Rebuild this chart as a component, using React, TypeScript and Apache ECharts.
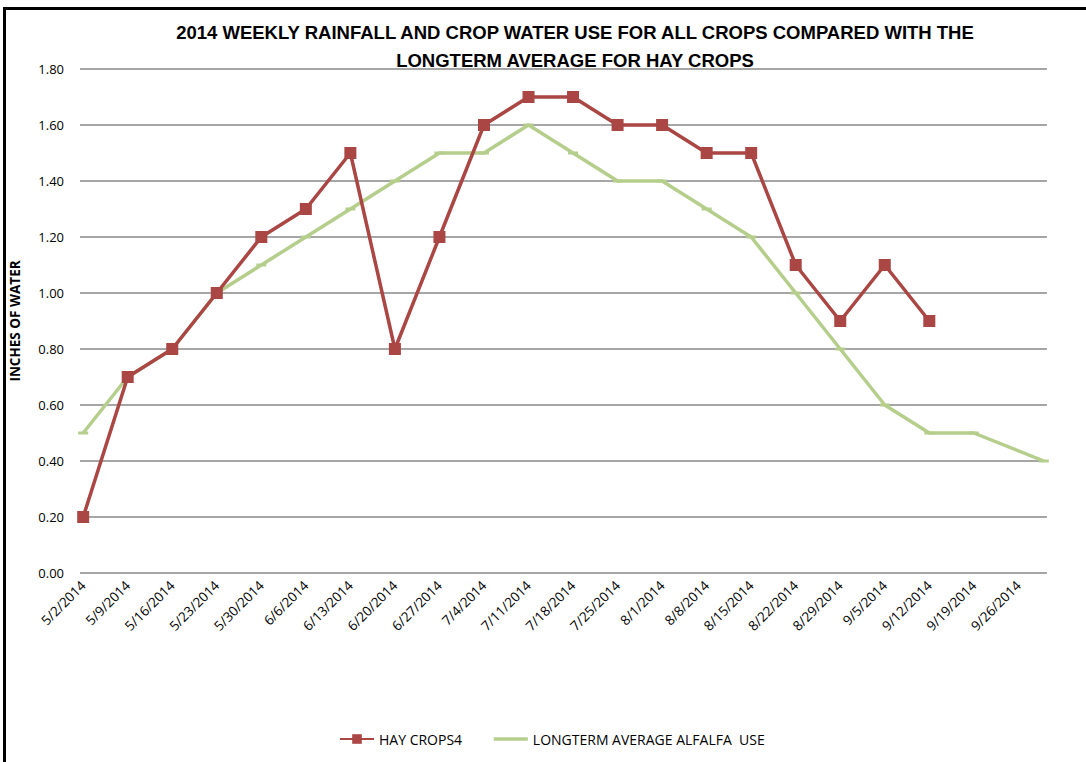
import React, { useEffect, useRef } from "react";
import * as echarts from "echarts";

const weekLabels = [
  "5/2/2014", "5/9/2014", "5/16/2014", "5/23/2014", "5/30/2014", "6/6/2014",
  "6/13/2014", "6/20/2014", "6/27/2014", "7/4/2014", "7/11/2014", "7/18/2014",
  "7/25/2014", "8/1/2014", "8/8/2014", "8/15/2014", "8/22/2014", "8/29/2014",
  "9/5/2014", "9/12/2014", "9/19/2014", "9/26/2014",
];

const hayDates = [
  "5/2/2014", "5/9/2014", "5/16/2014", "5/23/2014", "5/30/2014", "6/6/2014",
  "6/13/2014", "6/20/2014", "6/27/2014", "7/4/2014", "7/11/2014", "7/18/2014",
  "7/25/2014", "8/1/2014", "8/8/2014", "8/15/2014", "8/22/2014", "8/29/2014",
  "9/5/2014", "9/12/2014",
];
const hayValues = [
  0.2, 0.7, 0.8, 1.0, 1.2, 1.3, 1.5, 0.8, 1.2, 1.6, 1.7, 1.7, 1.6, 1.6, 1.5,
  1.5, 1.1, 0.9, 1.1, 0.9,
];

const avgDates = [
  "5/2/2014", "5/9/2014", "5/16/2014", "5/23/2014", "5/30/2014", "6/6/2014",
  "6/13/2014", "6/20/2014", "6/27/2014", "7/4/2014", "7/11/2014", "7/18/2014",
  "7/25/2014", "8/1/2014", "8/8/2014", "8/15/2014", "8/22/2014", "8/29/2014",
  "9/5/2014", "9/12/2014", "9/19/2014", "9/30/2014",
];
const avgValues = [
  0.5, 0.7, 0.8, 1.0, 1.1, 1.2, 1.3, 1.4, 1.5, 1.5, 1.6, 1.5, 1.4, 1.4, 1.3,
  1.2, 1.0, 0.8, 0.6, 0.5, 0.5, 0.4,
];

function toDay(s: string): number {
  const [m, d, y] = s.split("/").map(Number);
  const base = Date.UTC(2014, 4, 2);
  return Math.round((Date.UTC(y, m - 1, d) - base) / 86400000);
}

export default function App() {
  const ref = useRef<HTMLDivElement>(null);
  useEffect(() => {
    if (!ref.current) return;
    const chart = echarts.init(ref.current, null, { renderer: "svg" });
    const labelDays = weekLabels.map(toDay);
    const labelMap: Record<number, string> = {};
    weekLabels.forEach((l, i) => (labelMap[labelDays[i]] = l));
    const font = "Open Sans";
    const red = "#AA4643";
    const green = "#B5CE8C";
    chart.setOption({
      animation: false,
      backgroundColor: "#ffffff",
      title: {
        text: "2014 WEEKLY RAINFALL AND CROP WATER USE FOR ALL CROPS COMPARED WITH THE\nLONGTERM AVERAGE FOR HAY CROPS",
        left: 570,
        textAlign: "center",
        top: 13,
        textStyle: {
          fontFamily: "Liberation Sans",
          fontWeight: "bold",
          fontSize: 18.5,
          lineHeight: 28,
          color: "#000",
        },
      },
      graphic: [
        {
          type: "polyline",
          shape: { points: [[4.5, 800], [4.5, 8.5], [1090, 8.5]] },
          style: { stroke: "#000", lineWidth: 3, fill: null },
        },
      ],
      legend: {
        bottom: 11,
        left: 334,
        itemGap: 30,
        itemWidth: 34,
        itemHeight: 12,
        textStyle: { fontFamily: font, fontSize: 14, color: "#000" },
        data: [
          { name: "HAY CROPS4" },
          {
            name: "LONGTERM AVERAGE ALFALFA  USE",
            itemStyle: { color: "rgba(0,0,0,0)", borderWidth: 0 },
            lineStyle: { color: green, width: 3.5 },
          },
        ],
      },
      grid: {
        left: 80,
        right: 39,
        top: 69,
        bottom: 189,
        containLabel: false,
        outerBoundsMode: "none",
      },
      xAxis: {
        type: "value",
        min: -0.5,
        max: 151.5,
        axisLine: { show: false },
        axisTick: { show: false },
        splitLine: { show: false },
        axisLabel: {
          customValues: labelDays,
          rotate: 45,
          fontFamily: font,
          fontSize: 13.5,
          color: "#000",
          margin: 10,
          formatter: (v: number) => labelMap[v] || "",
        },
      },
      yAxis: {
        type: "value",
        min: 0,
        max: 1.8,
        interval: 0.2,
        name: "INCHES OF WATER",
        nameLocation: "middle",
        nameGap: 58,
        nameRotate: 90,
        nameTextStyle: {
          fontFamily: font,
          fontWeight: "bold",
          fontSize: 13.5,
          color: "#000",
        },
        axisLine: { show: false },
        axisTick: { show: false },
        axisLabel: {
          fontFamily: font,
          fontSize: 13,
          color: "#000",
          margin: 16,
          formatter: (v: number) => v.toFixed(2),
        },
        splitLine: { lineStyle: { color: "#A6A6A6", width: 2 } },
      },
      series: [
        {
          name: "HAY CROPS4",
          type: "line",
          data: hayDates.map((d, i) => [toDay(d), hayValues[i]]),
          symbol: "rect",
          symbolSize: 12,
          lineStyle: { color: red, width: 3.5 },
          itemStyle: { color: red },
          z: 3,
        },
        {
          name: "LONGTERM AVERAGE ALFALFA  USE",
          type: "line",
          data: avgDates.map((d, i) => [toDay(d), avgValues[i]]),
          symbol: "rect",
          symbolSize: [10, 3],
          lineStyle: { color: green, width: 3.5 },
          itemStyle: { color: green },
          z: 2,
        },
      ],
    });
    return () => chart.dispose();
  }, []);
  return (
    <div
      ref={ref}
      style={{ position: "absolute", left: 0, top: 0, width: 1086, height: 762 }}
    />
  );
}
